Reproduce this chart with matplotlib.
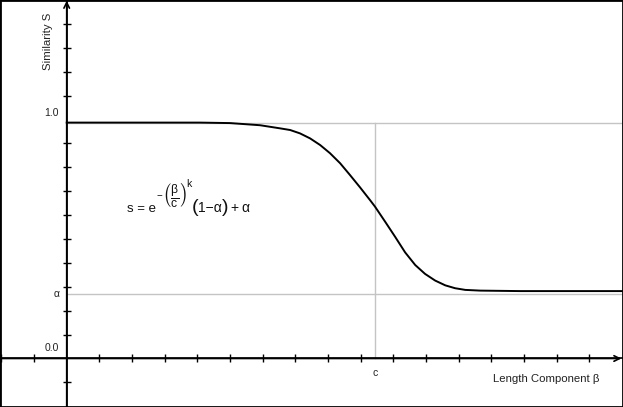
import numpy as np
import matplotlib
matplotlib.use("Agg")
import matplotlib.pyplot as plt
from matplotlib.patches import Rectangle

plt.rcParams['font.family'] = ['Liberation Sans', 'DejaVu Sans']
plt.rcParams['mathtext.fontset'] = 'custom'
plt.rcParams['mathtext.rm'] = 'Liberation Sans'
plt.rcParams['mathtext.it'] = 'Liberation Sans'
plt.rcParams['mathtext.bf'] = 'Liberation Sans:bold'

# curve (beta, similarity)
beta = [0.0, 4.08, 5.00, 5.92, 6.53, 6.84, 7.14, 7.45, 7.76, 8.06, 8.37, 8.67,
        8.98, 9.29, 9.44, 9.75, 10.05, 10.36, 10.67, 10.97, 11.28, 11.59,
        11.89, 12.20, 12.66, 13.88, 15.10, 17.0]
sim = [0.987, 0.987, 0.985, 0.976, 0.963, 0.956, 0.942, 0.921, 0.893, 0.859,
       0.817, 0.768, 0.716, 0.662, 0.635, 0.572, 0.510, 0.444, 0.391, 0.354,
       0.326, 0.306, 0.294, 0.287, 0.284, 0.282, 0.282, 0.282]

one_level = 0.987
alpha_level = 0.268
c_value = 9.44

x_ticks = [-2, -1] + list(range(1, 17))
y_ticks = [-0.1, 0.1, 0.2, 0.3, 0.4, 0.5, 0.6, 0.7, 0.8, 0.9, 1.1, 1.2, 1.3, 1.4]

xmin, xmax = -2.042, 17.03
ymin, ymax = -0.203, 1.5

fig = plt.figure(figsize=(6.23, 4.07), dpi=100)
ax = fig.add_axes([0, 0, 1, 1])
ax.set_xlim(xmin, xmax)
ax.set_ylim(ymin, ymax)

# axes through the origin
for side in ['top', 'right']:
    ax.spines[side].set_visible(False)
for side in ['left', 'bottom']:
    ax.spines[side].set_position(('data', 0))
    ax.spines[side].set_linewidth(1.2)
ax.set_xticks(x_ticks)
ax.set_yticks(y_ticks)
ax.set_xticklabels([])
ax.set_yticklabels([])
ax.tick_params(direction='inout', length=5.4, width=1.0, color='black')

# arrow heads
arrow = dict(arrowstyle='->', lw=1.2, color='black', shrinkA=0, shrinkB=0,
             mutation_scale=10)
ax.annotate('', xy=(16.98, 0), xytext=(xmin, 0), arrowprops=arrow)
ax.annotate('', xy=(0, 1.497), xytext=(0, ymin), arrowprops=arrow)

# helper lines
grey = '#c4c4c4'
ax.plot([0, xmax], [one_level, one_level], color=grey, lw=1.0, zorder=1)
ax.plot([0, xmax], [alpha_level, alpha_level], color=grey, lw=1.0, zorder=1)
ax.plot([c_value, c_value], [0, one_level], color=grey, lw=1.0, zorder=1)

ax.plot(beta, sim, color='black', lw=1.4, zorder=3)

# labels
lab = dict(fontsize=7.5, color='#222222')
ax.text(-0.23, 0.022, '0.0', ha='right', va='bottom', **lab)
ax.text(-0.23, 1.005, '1.0', ha='right', va='bottom', **lab)
ax.text(-0.21, 0.271, 'α', ha='right', va='center', **lab)
ax.text(c_value, -0.059, 'c', ha='center', va='center', **lab)
ax.text(-0.57, 1.326, 'Similarity S', rotation=90, ha='center', va='center',
        fontsize=8.2, color='#222222')
ax.text(14.68, -0.086, 'Length Component β', ha='center', va='center',
        fontsize=8.2, color='#222222')

# formula, put together piece by piece (offsets in points from the anchor)
anchor = (1.84, 0.614)
pieces = [
    ('s = e', 0.0, 0.0, 9.5),
    ('−', 21.3, 9.3, 7),
    (r'$\left(\frac{\beta}{c}\right)$', 25.4, 6.6, 12.5),
    ('k', 42.6, 17.5, 7.5),
    ('(', 46.6, -0.2, 14),
    ('1−α', 51.3, 0.0, 10),
    (')', 68.5, -0.2, 14),
    ('+', 74.9, 0.0, 10),
    ('α', 82.3, 0.0, 10),
]
for txt, dx, dy, fs in pieces:
    ax.annotate(txt, xy=anchor, xytext=(dx, dy), textcoords='offset points',
                ha='left', va='baseline', fontsize=fs, color='#111111')

# outer frame
fig.patches.append(Rectangle((0, 0), 1, 1, transform=fig.transFigure,
                             fill=False, edgecolor='black', lw=2.0))

fig.savefig('out.png', dpi=100)
